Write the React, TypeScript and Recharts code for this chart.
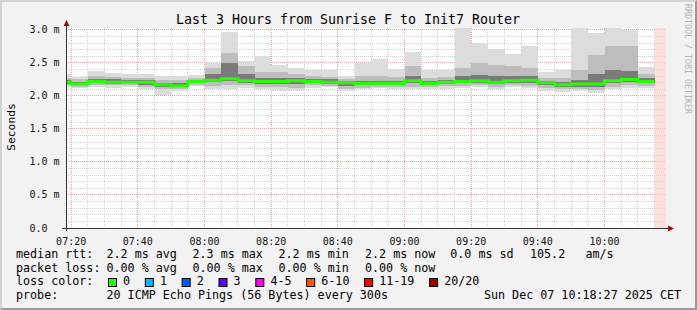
import React from "react";
import {
  Area,
  CartesianGrid,
  ComposedChart,
  Line,
  ReferenceArea,
  XAxis,
  YAxis,
} from "recharts";

const FONT = "'DejaVu Sans Mono', monospace";

// rrd steps (300s), start of each step, oldest first
const slotStart = [
  "07:15", "07:20", "07:25", "07:30", "07:35", "07:40", "07:45", "07:50", "07:55",
  "08:00", "08:05", "08:10", "08:15", "08:20", "08:25", "08:30", "08:35", "08:40",
  "08:45", "08:50", "08:55", "09:00", "09:05", "09:10", "09:15", "09:20", "09:25",
  "09:30", "09:35", "09:40", "09:45", "09:50", "09:55", "10:00", "10:05", "10:10",
];
const lastStepEnd = "10:15";
const windowStart = "07:18:27";
const windowEnd = "10:18:27";

// smoke, in ms (outer band, mid band, core band) + median
const rttMax = [2.33, 2.29, 2.38, 2.35, 2.33, 2.33, 2.30, 2.31, 2.32, 2.51, 2.97, 2.53, 2.61, 2.47, 2.42, 2.39, 2.39, 2.31, 2.50, 2.56, 2.41, 2.67, 2.39, 2.39, 3.03, 2.80, 2.71, 2.63, 2.75, 2.36, 2.40, 3.03, 2.96, 3.03, 3.00, 2.44];
const rttHi = [2.27, 2.25, 2.31, 2.29, 2.27, 2.27, 2.24, 2.24, 2.27, 2.42, 2.65, 2.45, 2.37, 2.36, 2.33, 2.31, 2.29, 2.26, 2.30, 2.30, 2.29, 2.45, 2.28, 2.29, 2.43, 2.50, 2.47, 2.45, 2.43, 2.28, 2.27, 2.40, 2.62, 2.75, 2.75, 2.34];
const coreHi = [2.24, 2.21, 2.25, 2.25, 2.24, 2.24, 2.20, 2.19, 2.24, 2.33, 2.50, 2.33, 2.28, 2.27, 2.27, 2.25, 2.25, 2.22, 2.22, 2.22, 2.22, 2.30, 2.22, 2.24, 2.30, 2.32, 2.30, 2.30, 2.30, 2.23, 2.21, 2.24, 2.33, 2.40, 2.38, 2.28];
const medianRtt = [2.21, 2.18, 2.22, 2.21, 2.21, 2.21, 2.17, 2.15, 2.22, 2.24, 2.26, 2.23, 2.22, 2.22, 2.23, 2.22, 2.21, 2.20, 2.19, 2.19, 2.19, 2.23, 2.19, 2.21, 2.22, 2.23, 2.21, 2.23, 2.24, 2.20, 2.17, 2.18, 2.18, 2.23, 2.25, 2.22];
const coreLo = [2.18, 2.16, 2.19, 2.18, 2.19, 2.17, 2.14, 2.13, 2.19, 2.21, 2.22, 2.20, 2.18, 2.18, 2.18, 2.19, 2.18, 2.15, 2.16, 2.16, 2.16, 2.20, 2.17, 2.18, 2.19, 2.20, 2.18, 2.20, 2.20, 2.16, 2.13, 2.14, 2.14, 2.20, 2.21, 2.19];
const rttLo = [2.16, 2.14, 2.16, 2.16, 2.16, 2.14, 2.10, 2.11, 2.17, 2.15, 2.16, 2.16, 2.14, 2.13, 2.12, 2.16, 2.15, 2.11, 2.12, 2.14, 2.13, 2.14, 2.14, 2.15, 2.15, 2.17, 2.14, 2.16, 2.15, 2.12, 2.10, 2.11, 2.09, 2.14, 2.16, 2.15];
const rttMin = [2.14, 2.12, 2.13, 2.12, 2.13, 2.11, 2.02, 2.08, 2.15, 2.10, 2.10, 2.12, 2.10, 2.08, 2.07, 2.12, 2.13, 2.08, 2.10, 2.12, 2.10, 2.10, 2.11, 2.11, 2.12, 2.14, 2.10, 2.13, 2.12, 2.08, 2.06, 2.08, 2.05, 2.10, 2.12, 2.12];

const xTickLabels = ["07:20", "07:40", "08:00", "08:20", "08:40", "09:00", "09:20", "09:40", "10:00"];
const yTicks = [0, 0.5, 1, 1.5, 2, 2.5, 3];
const yTickLabels = ["0.0", "0.5 m", "1.0 m", "1.5 m", "2.0 m", "2.5 m", "3.0 m"];
const yMinorTicks = [0.1, 0.2, 0.3, 0.4, 0.6, 0.7, 0.8, 0.9, 1.1, 1.2, 1.3, 1.4, 1.6, 1.7, 1.8, 1.9, 2.1, 2.2, 2.3, 2.4, 2.6, 2.7, 2.8, 2.9];

const legendRtt = [
  { x: 16, text: "median rtt:" },
  { x: 106.5, text: "2.2 ms avg" },
  { x: 192.5, text: "2.3 ms max" },
  { x: 278.5, text: "2.2 ms min" },
  { x: 365, text: "2.2 ms now" },
  { x: 450.3, text: "0.0 ms sd" },
  { x: 530, text: "105.2" },
  { x: 585.5, text: "am/s" },
];
const legendLoss = [
  { x: 16, text: "packet loss:" },
  { x: 106.5, text: "0.00 % avg" },
  { x: 192.5, text: "0.00 % max" },
  { x: 278.5, text: "0.00 % min" },
  { x: 365, text: "0.00 % now" },
];
const lossLabels = ["0", "1", "2", "3", "4-5", "6-10", "11-19", "20/20"];
const lossColors = ["#26ff00", "#00b8ff", "#0059ff", "#5e00ff", "#ff00ff", "#ff5500", "#ff0000", "#a10000"];

// minutes after 07:20
function toMin(s: string) {
  const [h, m, sec] = s.split(":").map(Number);
  return h * 60 + m + (sec || 0) / 60 - (7 * 60 + 20);
}

const rows = slotStart.map((s, i) => ({
  t: toMin(s),
  outer: [rttMin[i], rttMax[i]],
  mid: [rttLo[i], rttHi[i]],
  core: [coreLo[i], coreHi[i]],
  median: medianRtt[i],
}));
// close the last step
rows.push({ ...rows[rows.length - 1], t: toMin(lastStepEnd) });

const xTicks = xTickLabels.map(toMin);
const xMinorTicks = [...slotStart.slice(1), lastStepEnd].map(toMin);

const W = 697;
const H = 310;
const PLOT = { left: 66, right: 666, top: 28, bottom: 228 };

function XTick({ x, y, payload }: any) {
  const idx = xTicks.indexOf(payload.value);
  return (
    <text x={x} y={y + 9} textAnchor="middle" fontFamily={FONT} fontSize={10} fill="#111">
      {xTickLabels[idx]}
    </text>
  );
}

function YTick({ y, payload }: any) {
  const idx = yTicks.indexOf(payload.value);
  return (
    <text x={29.5} y={y + 3.5} textAnchor="start" fontFamily={FONT} fontSize={10} fill="#111">
      {yTickLabels[idx]}
    </text>
  );
}

function LossLegend() {
  let cursor = 108.5;
  const items = lossLabels.map((label, i) => {
    const bx = cursor;
    const lx = bx + 14.6;
    cursor = lx + label.length * 7.03 + 15.2;
    return (
      <g key={label}>
        <rect x={bx} y={278.5} width={8} height={8} fill={lossColors[i]} stroke="#000" strokeWidth={1} />
        <text x={lx} y={285.4}>{label}</text>
      </g>
    );
  });
  return <g>{items}</g>;
}

export default function App() {
  return (
    <div
      style={{
        position: "relative",
        width: W,
        height: H,
        boxSizing: "border-box",
        background: "#f2f2f2",
        borderTop: "2px solid #d2d2d2",
        borderLeft: "2px solid #d2d2d2",
        borderBottom: "2px solid #9a9a9a",
        borderRight: "2px solid #9a9a9a",
      }}
    >
      <style>{"body{margin:0}"}</style>
      <div style={{ position: "absolute", left: -2, top: -2 }}>
        <ComposedChart
          width={W}
          height={H}
          data={rows}
          margin={{ top: PLOT.top, right: W - PLOT.right, bottom: H - PLOT.bottom - 20, left: 0 }}
        >
          <CartesianGrid
            fill="#ffffff"
            stroke="#d4d4d4"
            strokeDasharray="1 1"
            horizontalValues={yMinorTicks}
            verticalValues={xMinorTicks}
            shapeRendering="crispEdges"
          />
          <CartesianGrid
            stroke="#f2a6a6"
            strokeDasharray="1 1"
            horizontalValues={yTicks}
            verticalValues={xTicks}
            shapeRendering="crispEdges"
          />
          <ReferenceArea
            x1={toMin(lastStepEnd)}
            x2={toMin(windowEnd)}
            fill="#ffc8c8"
            fillOpacity={0.6}
            stroke="none"
            ifOverflow="hidden"
          />
          <XAxis
            type="number"
            dataKey="t"
            domain={[toMin(windowStart), toMin(windowEnd)]}
            allowDataOverflow
            ticks={xTicks}
            interval={0}
            height={20}
            axisLine={false}
            tickLine={false}
            tick={<XTick />}
          />
          <YAxis
            type="number"
            domain={[0, 3.03]}
            allowDataOverflow
            ticks={yTicks}
            interval={0}
            width={PLOT.left}
            axisLine={false}
            tickLine={false}
            tick={<YTick />}
          />
          <Area dataKey="outer" type="stepAfter" fill="#dcdcdc" fillOpacity={1} stroke="none" isAnimationActive={false} shapeRendering="crispEdges" />
          <Area dataKey="mid" type="stepAfter" fill="#bdbdbd" fillOpacity={1} stroke="none" isAnimationActive={false} shapeRendering="crispEdges" />
          <Area dataKey="core" type="stepAfter" fill="#7a7a7a" fillOpacity={1} stroke="none" isAnimationActive={false} shapeRendering="crispEdges" />
          <Line dataKey="median" type="stepAfter" stroke="#26ff00" strokeWidth={3} dot={false} isAnimationActive={false} />
        </ComposedChart>
      </div>
      <svg
        width={W}
        height={H}
        style={{ position: "absolute", left: -2, top: -2, pointerEvents: "none" }}
        fontFamily={FONT}
      >
        <text x={348} y={24} textAnchor="middle" fontSize={13.3} fill="#000">
          Last 3 Hours from Sunrise F to Init7 Router
        </text>
        <text x={14.5} y={127} textAnchor="middle" fontSize={11.3} fill="#000" transform="rotate(-90 14.5 127)">
          Seconds
        </text>
        <text x={685} y={59} textAnchor="middle" fontSize={8.3} fill="#b4b4b4" transform="rotate(90 685 59)">
          RRDTOOL / TOBI OETIKER
        </text>

        {/* axes */}
        <line x1={PLOT.left + 0.5} y1={24} x2={PLOT.left + 0.5} y2={PLOT.bottom + 3} stroke="#333" />
        <line x1={PLOT.left - 4} y1={PLOT.bottom + 0.5} x2={PLOT.right + 3} y2={PLOT.bottom + 0.5} stroke="#333" />
        <polygon points={`${PLOT.left - 2.5},26 ${PLOT.left + 3.5},26 ${PLOT.left + 0.5},20`} fill="#9a1010" />
        <polygon points={`${PLOT.right + 2},${PLOT.bottom - 2.5} ${PLOT.right + 2},${PLOT.bottom + 3.5} ${PLOT.right + 8},${PLOT.bottom + 0.5}`} fill="#9a1010" />

        <g fontSize={11.7} fill="#000">
          {legendRtt.map((d) => (
            <text key={d.text} x={d.x} y={258}>{d.text}</text>
          ))}
          {legendLoss.map((d) => (
            <text key={d.text} x={d.x} y={271.7}>{d.text}</text>
          ))}
          <text x={16} y={285.4}>loss color:</text>
          <LossLegend />
          <text x={16} y={299}>probe:</text>
          <text x={106.5} y={299}>20 ICMP Echo Pings (56 Bytes) every 300s</text>
          <text x={681} y={299} textAnchor="end">Sun Dec 07 10:18:27 2025 CET</text>
        </g>
      </svg>
    </div>
  );
}
